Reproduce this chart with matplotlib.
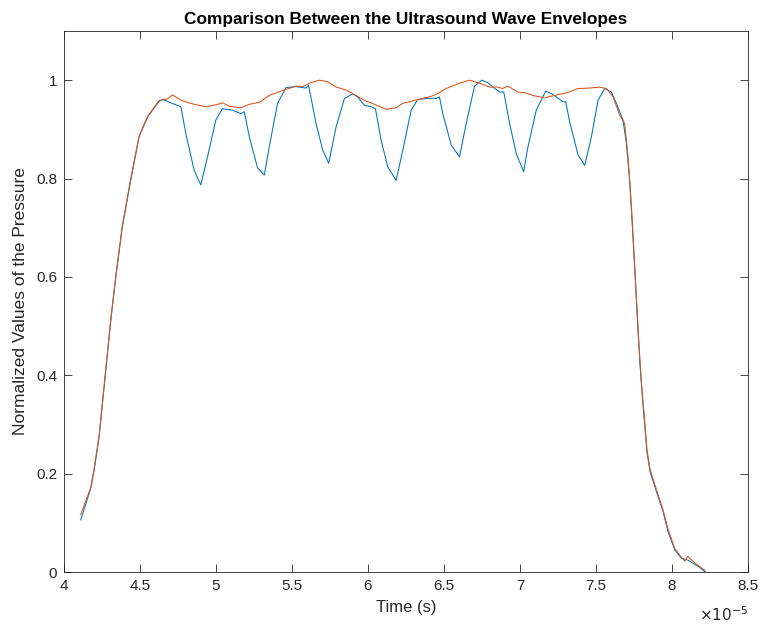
import numpy as np
import matplotlib
matplotlib.use('Agg')
import matplotlib.pyplot as plt
from matplotlib.ticker import FuncFormatter, MultipleLocator

# time values in units of 1e-5 s
t_blue = [4.11, 4.176, 4.198, 4.231, 4.264, 4.308, 4.341, 4.384, 4.439, 4.494,
          4.549, 4.626, 4.648, 4.712, 4.769, 4.801, 4.856, 4.900, 4.944, 4.999,
          5.043, 5.109, 5.164, 5.186, 5.219, 5.273, 5.318, 5.350, 5.405, 5.460,
          5.526, 5.592, 5.609, 5.658, 5.702, 5.741, 5.790, 5.845, 5.899, 5.932,
          5.976, 6.020, 6.049, 6.086, 6.130, 6.185, 6.229, 6.284, 6.327, 6.393,
          6.448, 6.470, 6.492, 6.548, 6.602, 6.646, 6.701, 6.750, 6.789, 6.822,
          6.866, 6.893, 6.932, 6.975, 7.024, 7.052, 7.107, 7.169, 7.206, 7.261,
          7.283, 7.301, 7.327, 7.382, 7.426, 7.470, 7.513, 7.557, 7.601, 7.634,
          7.678, 7.700, 7.722, 7.740, 7.758, 7.775, 7.790, 7.806, 7.820, 7.835,
          7.855, 7.895, 7.940, 7.973, 8.018, 8.062, 8.107, 8.174, 8.219]
p_blue = [0.106, 0.170, 0.207, 0.274, 0.376, 0.512, 0.600, 0.702, 0.797, 0.885,
          0.925, 0.957, 0.961, 0.953, 0.946, 0.892, 0.817, 0.787, 0.844, 0.919,
          0.942, 0.939, 0.932, 0.936, 0.885, 0.822, 0.807, 0.864, 0.953, 0.985,
          0.987, 0.984, 0.990, 0.912, 0.858, 0.831, 0.905, 0.963, 0.972, 0.966,
          0.949, 0.946, 0.942, 0.878, 0.824, 0.796, 0.858, 0.939, 0.961, 0.963,
          0.963, 0.966, 0.932, 0.868, 0.844, 0.912, 0.988, 1.000, 0.995, 0.986,
          0.976, 0.976, 0.912, 0.851, 0.814, 0.864, 0.939, 0.978, 0.973, 0.961,
          0.956, 0.956, 0.915, 0.848, 0.827, 0.885, 0.959, 0.983, 0.976, 0.953,
          0.919, 0.871, 0.795, 0.700, 0.600, 0.500, 0.420, 0.352, 0.300, 0.245,
          0.205, 0.166, 0.124, 0.083, 0.045, 0.028, 0.024, 0.011, 0.0]

t_orange = [4.11, 4.176, 4.198, 4.231, 4.264, 4.308, 4.341, 4.384, 4.439, 4.494,
            4.549, 4.626, 4.680, 4.714, 4.780, 4.856, 4.933, 5.000, 5.043, 5.087,
            5.164, 5.219, 5.285, 5.350, 5.438, 5.526, 5.570, 5.625, 5.680, 5.735,
            5.790, 5.856, 5.921, 5.976, 6.042, 6.119, 6.185, 6.229, 6.295, 6.360,
            6.415, 6.459, 6.514, 6.602, 6.668, 6.734, 6.800, 6.855, 6.883, 6.920,
            6.986, 7.041, 7.085, 7.162, 7.228, 7.305, 7.382, 7.458, 7.524, 7.568,
            7.612, 7.656, 7.689, 7.711, 7.733, 7.750, 7.767, 7.783, 7.800, 7.820,
            7.835, 7.855, 7.895, 7.940, 7.973, 8.018, 8.062, 8.085, 8.103, 8.152,
            8.219]
p_orange = [0.117, 0.172, 0.210, 0.278, 0.380, 0.515, 0.603, 0.705, 0.800, 0.886,
            0.926, 0.959, 0.962, 0.970, 0.958, 0.951, 0.946, 0.950, 0.954, 0.947,
            0.944, 0.951, 0.955, 0.969, 0.979, 0.988, 0.987, 0.995, 1.000, 0.997,
            0.986, 0.980, 0.969, 0.959, 0.951, 0.941, 0.944, 0.953, 0.958, 0.963,
            0.967, 0.973, 0.983, 0.994, 1.000, 0.994, 0.986, 0.986, 0.983, 0.988,
            0.976, 0.974, 0.969, 0.964, 0.969, 0.974, 0.983, 0.984, 0.986, 0.983,
            0.966, 0.929, 0.912, 0.844, 0.743, 0.650, 0.550, 0.460, 0.380, 0.310,
            0.250, 0.210, 0.170, 0.128, 0.088, 0.048, 0.030, 0.022, 0.032, 0.018,
            0.003]

plt.rcParams['font.family'] = ['Liberation Sans', 'DejaVu Sans']
axis_gray = '#262626'

fig = plt.figure(figsize=(7.62, 6.24), dpi=100)
ax = fig.add_axes([0.0840, 0.0833, 0.8976, 0.867])

ax.plot(np.array(t_blue) * 1e-5, p_blue, color='#0072BD', lw=0.75)
ax.plot(np.array(t_orange) * 1e-5, p_orange, color='#D95319', lw=0.75)

ax.set_xlim(4e-5, 8.5e-5)
ax.set_ylim(0, 1.1)
ax.xaxis.set_major_locator(MultipleLocator(0.5e-5))
ax.yaxis.set_major_locator(MultipleLocator(0.2))
ax.xaxis.set_major_formatter(FuncFormatter(lambda v, p: '%g' % round(v * 1e5, 3)))
ax.yaxis.set_major_formatter(FuncFormatter(lambda v, p: '%g' % round(v, 3)))
ax.tick_params(direction='in', length=6, width=0.6, colors=axis_gray,
               labelsize=11, top=True, right=True, pad=5)
for s in ax.spines.values():
    s.set_color(axis_gray)
    s.set_linewidth(0.6)

ax.text(1.0, -0.062, r'$\times10^{-5}$', transform=ax.transAxes,
        ha='right', va='top', fontsize=11, color=axis_gray)

ax.set_title('Comparison Between the Ultrasound Wave Envelopes',
             fontsize=12.4, fontweight='bold', pad=5)
ax.set_xlabel('Time (s)', fontsize=12, color=axis_gray, labelpad=5)
ax.set_ylabel('Normalized Values of the Pressure', fontsize=12.5,
              color=axis_gray, labelpad=6)

fig.savefig('out.png', dpi=100)
